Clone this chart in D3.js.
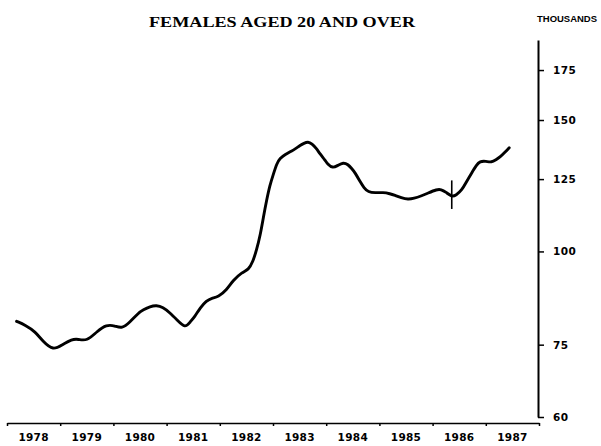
<!DOCTYPE html>
<html>
<head>
<meta charset="utf-8">
<script src="https://cdn.jsdelivr.net/npm/d3@7"></script>
<style>
  html, body { margin: 0; padding: 0; background: #fff; }
  svg { display: block; }
</style>
</head>
<body>
<div id="chart"></div>
<script>
// ---- data ----
const dates = [
  1978.18, 1978.34, 1978.53, 1978.68, 1978.87, 1979.03, 1979.22, 1979.34, 1979.50, 1979.69,
  1979.87, 1980.03, 1980.16, 1980.31, 1980.47, 1980.56, 1980.69, 1980.81, 1980.93, 1981.06,
  1981.20, 1981.35, 1981.44, 1981.53, 1981.63, 1981.75, 1981.85, 1981.97, 1982.13, 1982.25,
  1982.42, 1982.54, 1982.62, 1982.69, 1982.76, 1982.82, 1982.88, 1982.94, 1983.01, 1983.07,
  1983.13, 1983.23, 1983.35, 1983.43, 1983.51, 1983.58, 1983.66, 1983.73, 1983.82, 1983.88,
  1983.98, 1984.03, 1984.12, 1984.22, 1984.32, 1984.41, 1984.48, 1984.54, 1984.64, 1984.71,
  1984.79, 1984.92, 1985.07, 1985.20, 1985.29, 1985.41, 1985.54, 1985.65, 1985.78, 1985.91,
  1986.08, 1986.16, 1986.25, 1986.36, 1986.44, 1986.55, 1986.63, 1986.74, 1986.82, 1986.89,
  1987.00, 1987.11, 1987.19, 1987.27, 1987.36, 1987.44
];
const femalesThousands = [
  80.6, 79.7, 78.1, 75.7, 73.7, 74.9, 76.3, 76.3, 75.8, 78.1,
  79.8, 79.5, 78.8, 80.4, 82.7, 83.5, 84.4, 84.7, 84.2, 82.8,
  80.9, 78.9, 80.4, 81.8, 84.0, 85.9, 86.6, 86.9, 88.8, 91.5,
  93.8, 94.5, 96.8, 100.4, 105.1, 111.2, 117.1, 122.6, 127.1, 131.1,
  133.3, 134.9, 136.3, 137.4, 138.7, 139.6, 140.3, 139.4, 137.3, 135.2,
  132.5, 130.8, 129.3, 130.4, 131.6, 130.8, 129.1, 127.6, 123.9, 121.7,
  120.1, 119.8, 120.0, 119.5, 118.9, 118.0, 117.4, 117.8, 118.6, 119.7,
  121.1, 121.1, 120.1, 118.3, 118.9, 120.8, 123.8, 127.6, 130.4, 132.1,
  132.1, 131.6, 132.7, 133.8, 135.8, 137.7
];
// vertical break mark on the series
const breakDate = [1986.36];
const breakRange = [114, 124.5];

const yearTicks = [1978, 1979, 1980, 1981, 1982, 1983, 1984, 1985, 1986, 1987, 1988];
const yearLabels = ["1978", "1979", "1980", "1981", "1982", "1983", "1984", "1985", "1986", "1987"];
const valueTicks = [60, 75, 100, 125, 150, 175];
const valueDomain = [60, 192];

const titleText = "FEMALES AGED 20 AND OVER";
const unitText = "THOUSANDS";

// ---- drawing ----
const W = 601, H = 446;
const svg = d3.select("#chart").append("svg")
  .attr("width", W).attr("height", H)
  .attr("viewBox", `0 0 ${W} ${H}`);

const x = d3.scaleLinear().domain([1978, 1988]).range([7, 539]);
const y = d3.scaleLog().domain(valueDomain).range([417, 40]);

// title
svg.append("text")
  .attr("x", 282).attr("y", 27)
  .attr("text-anchor", "middle")
  .attr("font-family", "'Liberation Serif', 'DejaVu Serif', serif")
  .attr("font-weight", "bold")
  .attr("font-size", 15)
  .attr("textLength", 266)
  .attr("lengthAdjust", "spacingAndGlyphs")
  .text(titleText);

svg.append("text")
  .attr("x", 567).attr("y", 22)
  .attr("text-anchor", "middle")
  .attr("font-family", "'Liberation Sans', Arial, sans-serif")
  .attr("font-weight", "bold")
  .attr("font-size", 9.5)
  .attr("textLength", 60)
  .attr("lengthAdjust", "spacingAndGlyphs")
  .text(unitText);

// right value axis
const yAxis = d3.axisRight(y)
  .tickValues(valueTicks)
  .tickSizeInner(6)
  .tickSizeOuter(0)
  .tickPadding(9)
  .tickFormat(d3.format("d"));

const gy = svg.append("g")
  .attr("transform", "translate(538,0)")
  .call(yAxis);
gy.select(".domain").attr("stroke", "#000").attr("stroke-width", 2);
gy.selectAll(".tick line").attr("stroke", "#000").attr("stroke-width", 1.5);
gy.selectAll(".tick text")
  .attr("fill", "#000")
  .attr("font-family", "'DejaVu Sans', Arial, sans-serif")
  .attr("font-weight", "bold")
  .attr("font-size", 10.5)
  .attr("letter-spacing", 0.4);

// bottom time axis
const xAxis = d3.axisBottom(x)
  .tickValues(yearTicks)
  .tickSizeInner(3)
  .tickSizeOuter(0)
  .tickFormat("");

const gx = svg.append("g")
  .attr("transform", "translate(0,423)")
  .call(xAxis);
gx.select(".domain").attr("stroke", "#000").attr("stroke-width", 1.6);
gx.selectAll(".tick line").attr("stroke", "#000").attr("stroke-width", 1.5);

svg.append("g").selectAll("text")
  .data(yearLabels)
  .join("text")
  .attr("x", d => x(+d + 0.5))
  .attr("y", 441)
  .attr("text-anchor", "middle")
  .attr("font-family", "'DejaVu Sans', Arial, sans-serif")
  .attr("font-weight", "bold")
  .attr("font-size", 10.5)
  .attr("letter-spacing", 0.3)
  .text(d => d);

// series line
const pts = dates.map((d, i) => [d, femalesThousands[i]]);
const line = d3.line()
  .x(d => x(d[0]))
  .y(d => y(d[1]))
  .curve(d3.curveBasis);

svg.append("path")
  .datum(pts)
  .attr("fill", "none")
  .attr("stroke", "#000")
  .attr("stroke-width", 2.9)
  .attr("stroke-linejoin", "round")
  .attr("stroke-linecap", "round")
  .attr("d", line);

// break mark
svg.append("g").selectAll("line")
  .data(breakDate)
  .join("line")
  .attr("x1", d => x(d)).attr("x2", d => x(d))
  .attr("y1", y(breakRange[1])).attr("y2", y(breakRange[0]))
  .attr("stroke", "#000")
  .attr("stroke-width", 1.6);
</script>
</body>
</html>
